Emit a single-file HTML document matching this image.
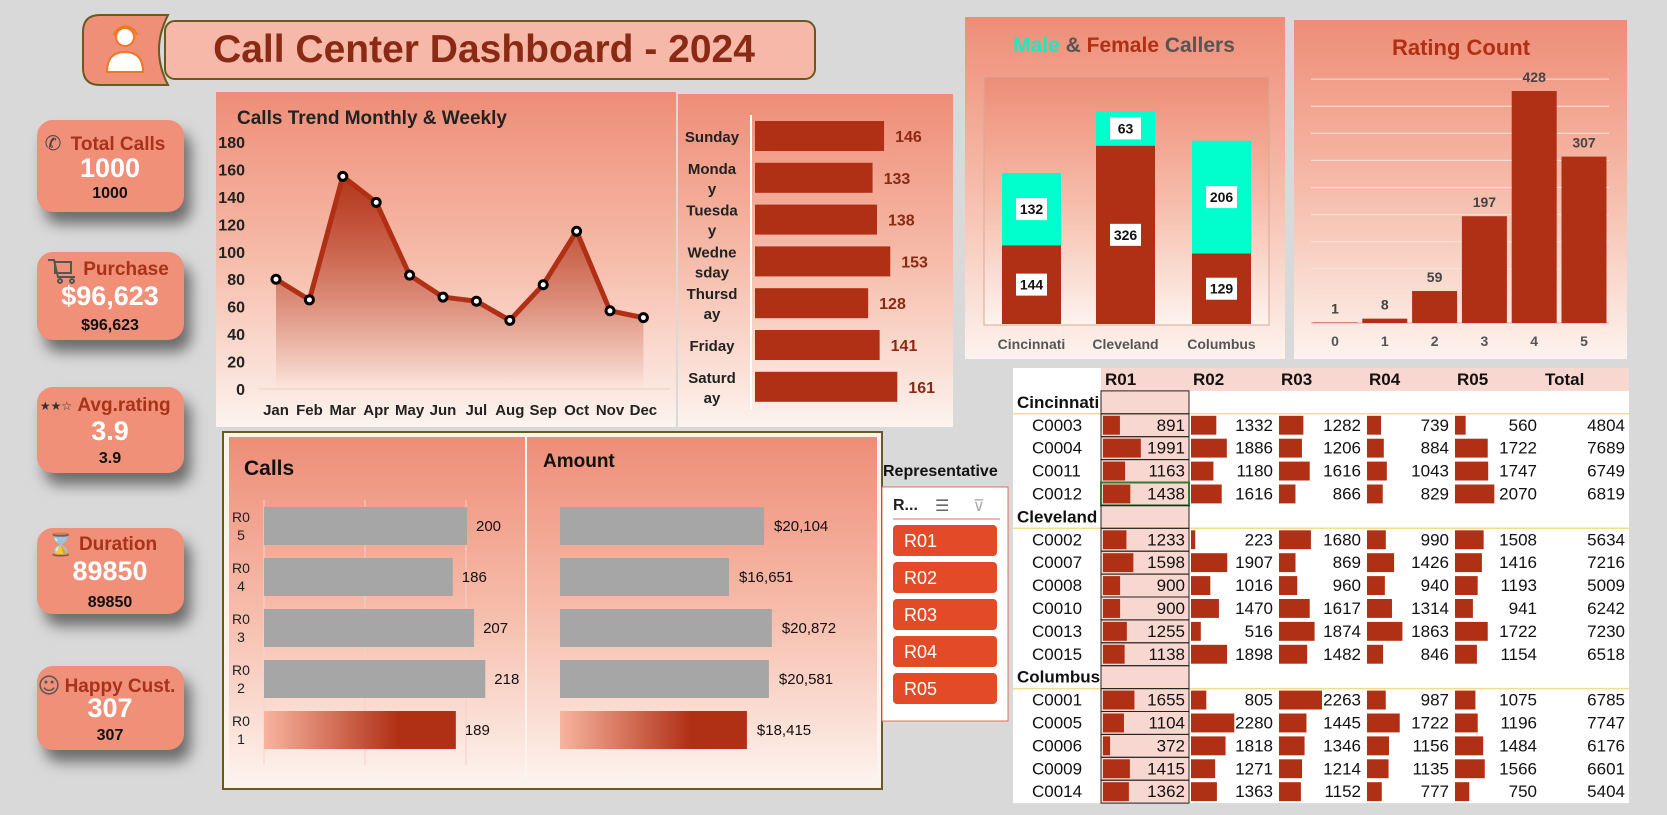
<!DOCTYPE html>
<html><head><meta charset="utf-8">
<style>
html,body{margin:0;padding:0;}
body{width:1667px;height:815px;background:#d9d9d9;position:relative;overflow:hidden;font-family:"Liberation Sans",Arial,sans-serif;}
.card{position:absolute;left:37px;width:147px;background:#f09078;border-radius:16px;box-shadow:7px 12px 14px rgba(0,0,0,0.5);}
svg{position:absolute;left:0;top:0;}
</style></head>
<body>
<div class="card" style="top:120px;height:92px"></div>
<div class="card" style="top:252px;height:88px"></div>
<div class="card" style="top:387px;height:86px"></div>
<div class="card" style="top:528px;height:86px"></div>
<div class="card" style="top:666px;height:84px"></div>

<svg id="main" width="1667" height="815" viewBox="0 0 1667 815" style="font-family:'Liberation Sans',Arial,sans-serif">
<defs>
<linearGradient id="panelG" x1="0" y1="0" x2="0" y2="1"><stop offset="0" stop-color="#ee8d77"/><stop offset="0.5" stop-color="#f6bcaa"/><stop offset="1" stop-color="#fdf3ee"/></linearGradient>
<linearGradient id="areaG" x1="0" y1="0" x2="0" y2="1"><stop offset="0" stop-color="#b03015" stop-opacity="0.95"/><stop offset="1" stop-color="#b03015" stop-opacity="0"/></linearGradient>
<linearGradient id="r01G" x1="0" y1="0" x2="1" y2="0"><stop offset="0" stop-color="#f8b4a0"/><stop offset="0.7" stop-color="#b03015"/><stop offset="1" stop-color="#b03015"/></linearGradient>
</defs>

<path d="M100,15 H168 Q150,50 168,85 H100 Q83,85 83,68 V32 Q83,15 100,15 Z" fill="#ef8f78" stroke="#6b5a1e" stroke-width="2"/>
<g>
<circle cx="125" cy="37" r="9" fill="#fff" stroke="#f07820" stroke-width="2"/>
<path d="M114,35 A12,12 0 0 1 137,35" fill="none" stroke="#f07820" stroke-width="2"/>
<path d="M107,72 Q107,52 125,52 Q143,52 143,72 Z" fill="#fff" stroke="#f07820" stroke-width="2"/>
</g>
<rect x="165" y="21" width="650" height="58" rx="10" fill="#f6b8a8" stroke="#6b5a1e" stroke-width="2"/>
<text x="484" y="62" text-anchor="middle" font-size="39" font-weight="bold" fill="#8b2a14">Call Center Dashboard - 2024</text>

<g font-weight="bold" text-anchor="middle">
<text x="53" y="150" font-size="20" fill="#444" font-family="DejaVu Sans">✆</text>
<text x="118" y="150" font-size="19" fill="#a8321a">Total Calls</text>
<text x="110" y="177" font-size="27" fill="#fff">1000</text>
<text x="110" y="198" font-size="16" fill="#111">1000</text>

<g stroke="#555" stroke-width="2" fill="none"><path d="M48,260 H54 L58,277 H75"/><rect x="55" y="262" width="16" height="11"/><circle cx="60" cy="281" r="2"/><circle cx="72" cy="281" r="2"/></g>
<text x="126" y="275" font-size="19" fill="#a8321a">Purchase</text>
<text x="110" y="305" font-size="27" fill="#fff">$96,623</text>
<text x="110" y="330" font-size="16" fill="#111">$96,623</text>

<text x="56" y="410" font-size="12" fill="#333" font-family="DejaVu Sans">★★☆</text>
<text x="124" y="411" font-size="19" fill="#a8321a">Avg.rating</text>
<text x="110" y="440" font-size="27" fill="#fff">3.9</text>
<text x="110" y="463" font-size="16" fill="#111">3.9</text>

<text x="61" y="552" font-size="22" fill="#555" font-family="DejaVu Sans">⌛</text>
<text x="118" y="550" font-size="19" fill="#a8321a">Duration</text>
<text x="110" y="580" font-size="27" fill="#fff">89850</text>
<text x="110" y="607" font-size="16" fill="#111">89850</text>

<text x="49" y="693" font-size="22" fill="#555" font-family="DejaVu Sans">☺</text>
<text x="120" y="692" font-size="19" fill="#a8321a">Happy Cust.</text>
<text x="110" y="717" font-size="27" fill="#fff">307</text>
<text x="110" y="740" font-size="16" fill="#111">307</text>
</g>

<rect x="216" y="92" width="460" height="335" fill="url(#panelG)"/>
<rect x="678" y="94" width="275" height="333" fill="url(#panelG)"/>
<rect x="965" y="17" width="320" height="342" fill="url(#panelG)"/>
<rect x="984" y="77" width="285" height="248" fill="url(#panelG)" stroke="#d8a898" stroke-width="1"/>
<rect x="1294" y="20" width="333" height="339" fill="url(#panelG)"/>
<text x="237" y="124" font-size="19" font-weight="bold" fill="#222">Calls Trend Monthly &amp; Weekly</text>
<text x="1124" y="52" text-anchor="middle" font-size="21" font-weight="bold"><tspan fill="#1de9c0">Male</tspan><tspan fill="#555"> &amp; </tspan><tspan fill="#b03015">Female</tspan><tspan fill="#555"> Callers</tspan></text>
<text x="1461" y="55" text-anchor="middle" font-size="22" font-weight="bold" fill="#b03015">Rating Count</text>

<rect x="223" y="432" width="659" height="357" fill="#fdf3ee" stroke="#6b5a1e" stroke-width="2"/>
<rect x="229" y="437" width="296" height="346" fill="url(#panelG)"/>
<rect x="527" y="437" width="350" height="346" fill="url(#panelG)"/>
<text x="244" y="475" font-size="21" font-weight="bold" fill="#111">Calls</text>
<text x="543" y="467" font-size="19" font-weight="bold" fill="#111">Amount</text>

<text x="883" y="476" font-size="16" font-weight="bold" fill="#111">Representative</text>
<rect x="882" y="487" width="126" height="234" fill="#fff" stroke="#e07050" stroke-width="1"/>
<text x="893" y="510" font-size="16" font-weight="bold" fill="#222">R...</text>
<text x="935" y="511" font-size="16" fill="#666" font-family="DejaVu Sans">☰</text>
<text x="973" y="511" font-size="16" fill="#aaa" font-family="DejaVu Sans">⊽</text>
<line x1="893" y1="519" x2="1000" y2="519" stroke="#e07050" stroke-width="1"/>
<g id="slicerBtns"></g>

<g id="trend"></g><g id="weekly"></g><g id="gender"></g><g id="rating"></g><g id="reps"></g><g id="table"></g>
</svg>

<script>
const NS="http://www.w3.org/2000/svg";
function mk(parent,tag,attrs,txt){const e=document.createElementNS(NS,tag);for(const k in attrs)e.setAttribute(k,attrs[k]);if(txt!==undefined)e.textContent=txt;parent.appendChild(e);return e;}

const months=["Jan","Feb","Mar","Apr","May","Jun","Jul","Aug","Sep","Oct","Nov","Dec"];
const monthCalls=[80,65,155,136,83,67,64,50,76,115,57,52];
const trendTicks=[0,20,40,60,80,100,120,140,160,180];
const dayLines=[["Sunday"],["Monda","y"],["Tuesda","y"],["Wedne","sday"],["Thursd","ay"],["Friday"],["Saturd","ay"]];
const dayCalls=[146,133,138,153,128,141,161];
const cities=["Cincinnati","Cleveland","Columbus"];
const femaleCalls=[144,326,129];
const maleCalls=[132,63,206];
const ratings=["0","1","2","3","4","5"];
const ratingCounts=[1,8,59,197,428,307];
const repNames=["R05","R04","R03","R02","R01"];
const repCalls=[200,186,207,218,189];
const repAmounts=[20104,16651,20872,20581,18415];
const slicerItems=["R01","R02","R03","R04","R05"];
const tableCols=["R01","R02","R03","R04","R05"];
const tableGroups=["Cincinnati","Cleveland","Columbus"];
const groupCustomers=[["C0003","C0004","C0011","C0012"],["C0002","C0007","C0008","C0010","C0013","C0015"],["C0001","C0005","C0006","C0009","C0014"]];
const r01Vals=[891,1991,1163,1438,1233,1598,900,900,1255,1138,1655,1104,372,1415,1362];
const r02Vals=[1332,1886,1180,1616,223,1907,1016,1470,516,1898,805,2280,1818,1271,1363];
const r03Vals=[1282,1206,1616,866,1680,869,960,1617,1874,1482,2263,1445,1346,1214,1152];
const r04Vals=[739,884,1043,829,990,1426,940,1314,1863,846,987,1722,1156,1135,777];
const r05Vals=[560,1722,1747,2070,1508,1416,1193,941,1722,1154,1075,1196,1484,1566,750];

(function(){
const tg=document.getElementById('trend');
const tx=i=>276+i*33.4, ty=v=>389-v*1.372;
trendTicks.forEach(t=>{const e=mk(tg,'text',{x:245,y:ty(t)+6,'text-anchor':'end','font-size':16,'font-weight':'bold',fill:'#222'},t);

});
const ax=mk(tg,'line',{x1:259,x2:670,y1:ty(0),y2:ty(0),stroke:'#e8d0c8','stroke-width':1});


let pts=monthCalls.map((v,i)=>tx(i)+','+ty(v)).join(' ');
const area=mk(tg,'polygon',{points:tx(0)+','+ty(0)+' '+pts+' '+tx(11)+','+ty(0),fill:'url(#areaG)'});


const ln=mk(tg,'polyline',{points:pts,fill:'none',stroke:'#b03015','stroke-width':5,'stroke-linejoin':'round'});


monthCalls.forEach((v,i)=>{const c=mk(tg,'circle',{cx:tx(i),cy:ty(v),r:4,fill:'#fff',stroke:'#000','stroke-width':3});


const l=mk(tg,'text',{x:tx(i),y:ty(0)+26,'text-anchor':'middle','font-size':15,'font-weight':'bold',fill:'#222'},months[i]);

});

const wg=document.getElementById('weekly');
const wx=v=>v*0.884, wy=i=>121+i*41.8;
const wa=mk(wg,'line',{x1:751,x2:751,y1:115,y2:410,stroke:'#fff','stroke-width':2});


dayCalls.forEach((v,i)=>{const r=mk(wg,'rect',{x:755,y:wy(i),width:wx(v),height:30,fill:'#b03015'});


const t=mk(wg,'text',{x:755+wx(v)+11,y:wy(i)+21,'font-size':16,'font-weight':'bold',fill:'#8b2a14'},v);


const lines=dayLines[i];
lines.forEach((s,j)=>{const y=wy(i)+15+(lines.length===1?6:(j===0?-4:16));
const d=mk(wg,'text',{x:712,y:y,'text-anchor':'middle','font-size':15,'font-weight':'bold',fill:'#222'},s);

});});

const gg=document.getElementById('gender');
const gk=0.547, gb=324, gxs=[1002,1096,1192];
cities.forEach((c,i)=>{const fh=femaleCalls[i]*gk, mh=maleCalls[i]*gk;
const f=mk(gg,'rect',{x:gxs[i],y:gb-fh,width:59,height:fh,fill:'#b03015'});


const m=mk(gg,'rect',{x:gxs[i],y:gb-fh-mh,width:59,height:mh,fill:'#00ffcc'});


[[femaleCalls[i],gb-fh/2],[maleCalls[i],gb-fh-mh/2]].forEach(([v,cy])=>{
const b=mk(gg,'rect',{x:gxs[i]+14,y:cy-11,width:31,height:22,fill:'#fff'});


const t=mk(gg,'text',{x:gxs[i]+29.5,y:cy+5,'text-anchor':'middle','font-size':14,'font-weight':'bold',fill:'#111'},v);

});
const l=mk(gg,'text',{x:gxs[i]+29.5,y:349,'text-anchor':'middle','font-size':14,'font-weight':'bold',fill:'#555'},c);

});

const rg=document.getElementById('rating');
const rk=0.542, rb=323;
for(let g=0;g<=450;g+=50){const gl=mk(rg,'line',{x1:1311,x2:1609,y1:rb-g*rk,y2:rb-g*rk,stroke:g===0?'#c8b8b0':'#fbe3db','stroke-width':1});

}
ratings.forEach((r,i)=>{const cx=1335+i*49.8, h=ratingCounts[i]*rk;
const b=mk(rg,'rect',{x:cx-22.5,y:rb-h,width:45,height:h,fill:'#b03015'});


const t=mk(rg,'text',{x:cx,y:rb-h-9,'text-anchor':'middle','font-size':14,'font-weight':'bold',fill:'#444'},ratingCounts[i]);


const l=mk(rg,'text',{x:cx,y:346,'text-anchor':'middle','font-size':14,'font-weight':'bold',fill:'#555'},r);

});

const pg=document.getElementById('reps');
const ck=1.015, ak=0.01015, ry=i=>507+i*51;
[365,466].forEach(x=>{const gl=mk(pg,'line',{x1:x,x2:x,y1:500,y2:765,stroke:'#f3d0c6','stroke-width':1});

});
const rax=mk(pg,'line',{x1:264,x2:264,y1:500,y2:765,stroke:'#f5d5cc','stroke-width':1});


repNames.forEach((n,i)=>{const fill=n==='R01'?'url(#r01G)':'#a6a6a6';
const b=mk(pg,'rect',{x:264,y:ry(i),width:repCalls[i]*ck,height:38,fill:fill});


const t=mk(pg,'text',{x:264+repCalls[i]*ck+9,y:ry(i)+24,'font-size':15,fill:'#111'},repCalls[i]);


const a=mk(pg,'rect',{x:560,y:ry(i),width:repAmounts[i]*ak,height:38,fill:fill});


const at=mk(pg,'text',{x:560+repAmounts[i]*ak+10,y:ry(i)+24,'font-size':15,fill:'#111'},'$'+repAmounts[i].toLocaleString('en-US'));


const l1=mk(pg,'text',{x:241,y:ry(i)+15,'text-anchor':'middle','font-size':14,fill:'#222'},n.slice(0,2));


const l2=mk(pg,'text',{x:241,y:ry(i)+33,'text-anchor':'middle','font-size':14,fill:'#222'},n.slice(2));

});

const sg=document.getElementById('slicerBtns');
slicerItems.forEach((s,i)=>{const y=525+i*37;
const b=mk(sg,'rect',{x:893,y:y,width:104,height:31,rx:4,fill:'#e34a27'});


const t=mk(sg,'text',{x:904,y:y+22,'font-size':18,fill:'#fff'},s);

});

const tb=document.getElementById('table');
const rowH=22.9, tTop=368, colL=[1101,1189,1277,1365,1453,1541], colW=88, bk=0.019;
const bgT=mk(tb,'rect',{x:1013,y:tTop,width:616,height:rowH*19,fill:'#fff'});


const hdr=mk(tb,'rect',{x:1101,y:tTop,width:528,height:rowH,fill:'#f8d7d0'});


const r01bg=mk(tb,'rect',{x:1101,y:tTop+rowH,width:88,height:rowH*18,fill:'#f8d7d0'});


tableCols.concat(['Total']).forEach((c,j)=>{const t=mk(tb,'text',{x:colL[j]+4,y:tTop+17,'font-size':17,'font-weight':'bold',fill:'#111'},c);

});
const cols=[r01Vals,r02Vals,r03Vals,r04Vals,r05Vals];
let row=1, idx=0;
tableGroups.forEach((g,gi)=>{const gy=tTop+row*rowH;
const gt=mk(tb,'text',{x:1017,y:gy+17,'font-size':17,'font-weight':'bold',fill:'#111'},g);


const yl=mk(tb,'line',{x1:1013,x2:1629,y1:gy+rowH,y2:gy+rowH,stroke:'#f3dc8a','stroke-width':1.5});


const r01c=mk(tb,'rect',{x:1101,y:gy,width:88,height:rowH,fill:'none',stroke:'#222','stroke-width':1});


row++;
groupCustomers[gi].forEach(cu=>{const y=tTop+row*rowH;
const ct=mk(tb,'text',{x:1032,y:y+17,'font-size':17,fill:'#111'},cu);


let tot=0;
cols.forEach((arr,j)=>{const v=arr[idx]; tot+=v;
const br=mk(tb,'rect',{x:colL[j]+2,y:y+2,width:v*bk,height:rowH-4,fill:'#b03015'});


const vt=mk(tb,'text',{x:colL[j]+colW-4,y:y+17,'text-anchor':'end','font-size':17,fill:'#111'},v);

});
const tt=mk(tb,'text',{x:1625,y:y+17,'text-anchor':'end','font-size':17,fill:'#111'},tot);


const cell=mk(tb,'rect',{x:1101,y:y,width:88,height:rowH,fill:'none',stroke:cu==='C0012'?'#2e7d32':'#222','stroke-width':cu==='C0012'?2:1});


row++; idx++;});});
})();
</script>
</body></html>
